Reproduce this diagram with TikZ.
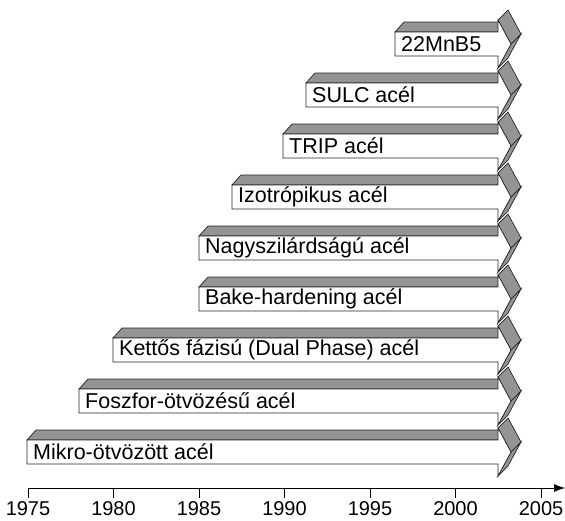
\documentclass[tikz,border=0pt]{standalone}
\usepackage{fontspec}
\setmainfont{Liberation Sans}
\usetikzlibrary{arrows.meta}

\begin{document}
\begin{tikzpicture}[x=1pt,y=-1pt,
  face/.style={draw=black!85,line width=0.7pt,fill=black!42},
  front/.style={draw=black!85,line width=0.7pt,fill=white},
  steellabel/.style={anchor=west,inner sep=0pt,font=\fontsize{21.5}{24}\selectfont},
  yearlabel/.style={inner sep=0pt,font=\fontsize{20}{22}\selectfont}]
\useasboundingbox (0,0) rectangle (565,520);

% arrows, top to bottom
\foreach \xl/\yt/\txt [count=\i] in {395/32/{22MnB5},306/83/{SULC acél},283/134/{TRIP acél},
  232/185/{Izotrópikus acél},199/236/{Nagyszilárdságú acél},199/287/{Bake-hardening acél},
  113/338/{Kettős fázisú (Dual Phase) acél},79/389/{Foszfor-ötvözésű acél},27/440/{Mikro-ötvözött acél}}
{
  \pgfmathsetmacro{\ym}{\yt+12}
  \draw[face] (\xl,\yt) -- (498,\yt) -- (508,\yt-10) -- (\xl+9,\yt-10) -- cycle;
  \draw[face] (498,\ym-24) -- (511,\ym) -- (521,\ym-10) -- (508,\ym-34) -- cycle;
  \draw[face] (511,\ym) -- (498,\ym+24) -- (508,\ym+14) -- (521,\ym-10) -- cycle;
  \draw[front] (\xl,\yt) -- (498,\yt) -- (498,\ym-24) -- (511,\ym) -- (498,\ym+24)
    -- (498,\yt+24) -- (\xl,\yt+24) -- cycle;
  \node[steellabel] (steel\i) at (\xl+6,\ym) {\txt};
}

% time axis
\coordinate (axisL) at (28,488);
\coordinate (axisR) at (565,488);
\draw[line width=0.7pt,-{Latex[length=11pt,width=8pt]}] (axisL) -- (axisR);
\foreach \yr [count=\k from 0] in {1975,1980,...,2005}
{
  \coordinate (tick\yr) at (28+85.5*\k,488);
  \draw[line width=0.7pt] (tick\yr) -- ++(0,10);
  \node[yearlabel] (year\yr) at (28+85.5*\k,509) {\yr};
}
\end{tikzpicture}
\end{document}
